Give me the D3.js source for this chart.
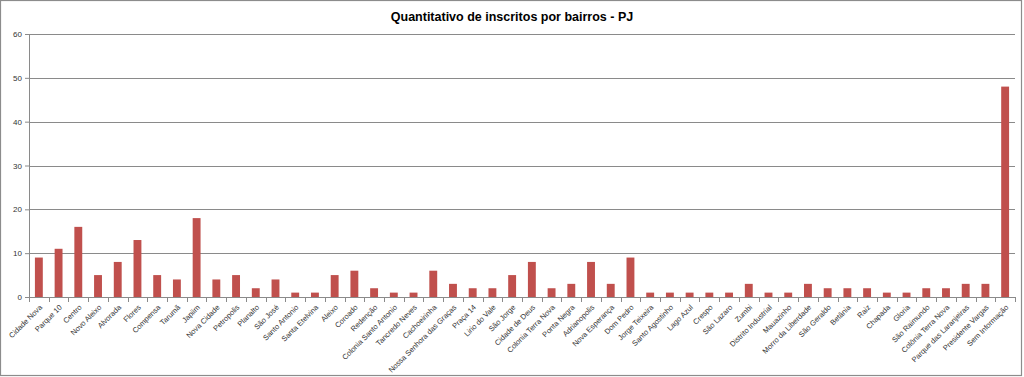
<!DOCTYPE html>
<meta charset="utf-8">
<script src="https://d3js.org/d3.v7.min.js"></script>
<style>
  body { margin: 0; background: #fff; }
  svg text { font-family: "Liberation Sans", Arial, sans-serif; }
</style>
<div id="chart"></div>
<script>

    var bairros = ["Cidade Nova", "Parque 10", "Centro", "Novo Aleixo", "Alvorada", "Flores", "Compensa",
      "Tarumã", "Japiim", "Nova Cidade", "Petropolis", "Planalto", "São José", "Santo Antonio",
      "Santa Etelvina", "Aleixo", "Coroado", "Redenção", "Colonia Santo Antonio", "Tancredo Neves",
      "Cachoeirinha", "Nossa Senhora das Graças", "Praça 14", "Lirio do Vale", "São Jorge",
      "Cidade de Deus", "Colonia Terra Nova", "Ponta Negra", "Adrianopolis", "Nova Esperança",
      "Dom Pedro", "Jorge Teixeira", "Santo Agostinho", "Lago Azul", "Crespo", "São Lazaro",
      "Zumbi", "Distrito Industrial", "Mauazinho", "Morro da Liberdade", "São Geraldo", "Betânia",
      "Raiz", "Chapada", "Gloria", "São Raimundo", "Colônia Terra Nova", "Parque das Laranjeiras",
      "Presidente Vargas", "Sem Informação"];

    var inscritos = [9, 11, 16, 5, 8, 13, 5, 4, 18, 4, 5, 2, 4, 1, 1, 5, 6, 2, 1, 1,
      6, 3, 2, 2, 5, 8, 2, 3, 8, 3, 9, 1, 1, 1, 1, 1, 3, 1, 1, 3, 2, 2, 2, 1, 1, 2, 2, 3, 3, 48];

    var yTicks = [0, 10, 20, 30, 40, 50, 60];

    var W = 1024, H = 377;
    var margin = {top: 34, right: 9, bottom: 80, left: 29},
        width = W - margin.left - margin.right,
        height = H - margin.top - margin.bottom;

    var root = d3.select("#chart")
      .append("svg")
        .attr("width", W)
        .attr("height", H);

    // chart border
    root.append("rect")
        .attr("x", 0.5).attr("y", 0.5)
        .attr("width", W - 3).attr("height", H - 2)
        .attr("fill", "none")
        .attr("stroke", "#8c8c8c")
        .attr("stroke-width", 1.2);

    root.append("text")
        .attr("x", 512)
        .attr("y", 21)
        .attr("text-anchor", "middle")
        .attr("font-size", "12.5px")
        .attr("font-weight", "bold")
        .attr("fill", "#000")
        .text("Quantitativo de inscritos por bairros - PJ");

    var svg = root.append("g")
        .attr("transform", "translate(" + margin.left + "," + margin.top + ")");

    var x = d3.scaleBand()
      .domain(bairros)
      .range([0, width])
      .paddingInner(0.6)
      .paddingOuter(0.3);

    var y = d3.scaleLinear()
      .domain([0, 60])
      .range([height, 0]);

    // gridlines
    svg.append("g")
      .selectAll("line")
      .data(yTicks.slice(1))
      .enter()
      .append("line")
        .attr("x1", 0).attr("x2", width)
        .attr("y1", function(d) { return Math.round(y(d)) + 0.5; })
        .attr("y2", function(d) { return Math.round(y(d)) + 0.5; })
        .attr("stroke", "#8a8a8a")
        .attr("stroke-width", 1);

    // bars
    svg.append("g")
      .selectAll("rect")
      .data(inscritos)
      .enter()
      .append("rect")
        .attr("x", function(d, i) { return x(bairros[i]); })
        .attr("y", function(d) { return y(d); })
        .attr("width", x.bandwidth())
        .attr("height", function(d) { return height - y(d); })
        .attr("fill", "#c0504d");

    // y axis
    var yAxis = svg.append("g")
        .call(d3.axisLeft(y).tickValues(yTicks).tickSize(4).tickPadding(3));
    yAxis.select(".domain").attr("stroke", "#8a8a8a");
    yAxis.selectAll(".tick line").attr("stroke", "#8a8a8a");
    yAxis.selectAll("text")
        .attr("font-size", "8px")
        .attr("fill", "#333")
        .style("font-family", "Liberation Sans, Arial, sans-serif");

    // x axis: line, ticks between categories
    var xg = svg.append("g")
        .attr("transform", "translate(0," + height + ")");
    xg.append("line")
        .attr("x1", 0).attr("x2", width)
        .attr("y1", 0.5).attr("y2", 0.5)
        .attr("stroke", "#8a8a8a");
    xg.selectAll(".tk")
      .data(d3.range(bairros.length + 1))
      .enter()
      .append("line")
        .attr("class", "tk")
        .attr("x1", function(i) { return Math.round(i * width / bairros.length) + 0.5; })
        .attr("x2", function(i) { return Math.round(i * width / bairros.length) + 0.5; })
        .attr("y1", 0).attr("y2", 5)
        .attr("stroke", "#8a8a8a");

    xg.selectAll(".lbl")
      .data(bairros)
      .enter()
      .append("text")
        .attr("class", "lbl")
        .attr("transform", function(d) {
          var cx = x(d) + x.bandwidth() / 2 + 2;
          return "translate(" + cx + ",9) rotate(-45)";
        })
        .attr("text-anchor", "end")
        .attr("dy", "0.35em")
        .attr("font-size", "7.5px")
        .attr("fill", "#333")
        .text(function(d) { return d; });

</script>
